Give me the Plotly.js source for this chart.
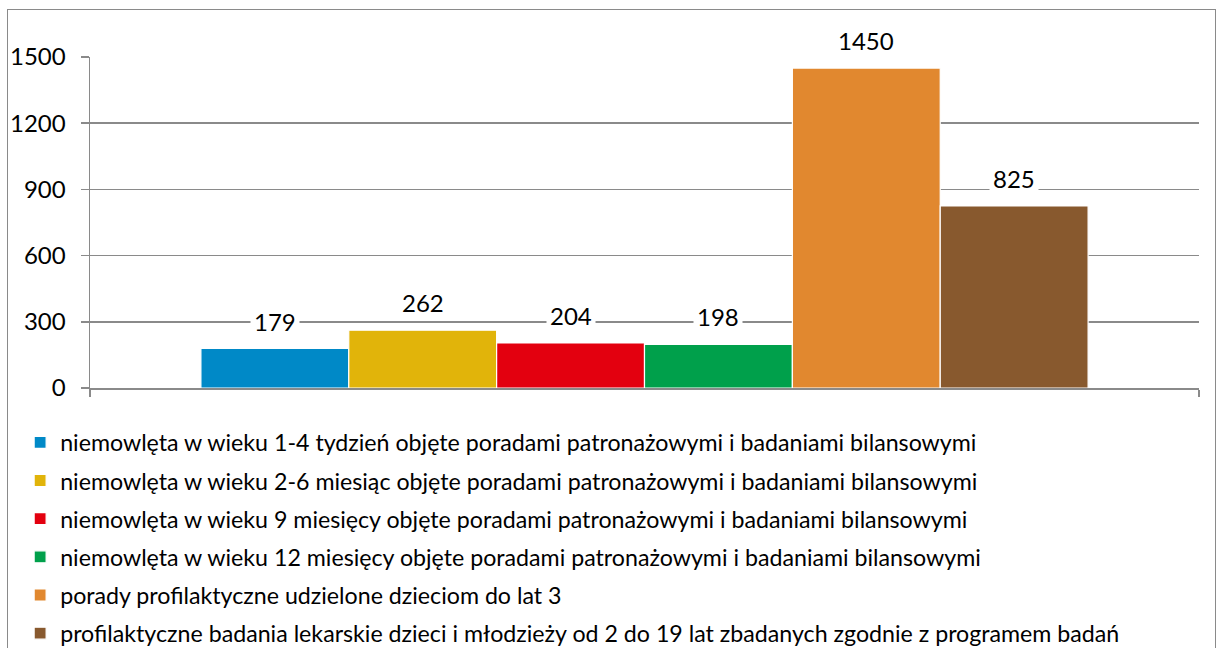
<!DOCTYPE html>
<html>
<head>
<meta charset="utf-8">
<script src="https://cdn.plot.ly/plotly-3.0.1.min.js"></script>
<style>
html,body{margin:0;padding:0;background:#fff;overflow:hidden;width:1218px;height:648px;}
#frame{position:absolute;left:7px;top:9px;width:1209px;height:700px;border:1.5px solid #8a8a8a;box-sizing:border-box;}
#chart{position:absolute;left:0;top:0;width:1218px;height:648px;}
</style>
</head>
<body>
<div id="frame"></div>
<div id="chart"></div>
<script>
const category = ["2015"];
const seriesNames = [
  "niemowlęta w wieku 1-4 tydzień objęte poradami patronażowymi i badaniami bilansowymi",
  "niemowlęta w wieku 2-6 miesiąc objęte poradami patronażowymi i badaniami bilansowymi",
  "niemowlęta w wieku 9 miesięcy objęte poradami patronażowymi i badaniami bilansowymi",
  "niemowlęta w wieku 12 miesięcy objęte poradami patronażowymi i badaniami bilansowymi",
  "porady profilaktyczne udzielone dzieciom do lat 3",
  "profilaktyczne badania lekarskie dzieci i młodzieży od 2 do 19 lat zbadanych zgodnie z programem badań"
];
const seriesValues = [179, 262, 204, 198, 1450, 825];
const seriesColors = ["#0089C7", "#E1B40A", "#E3000F", "#00A04B", "#E1882F", "#88592E"];
const yTicks = [0, 300, 600, 900, 1200, 1500];

const FONT = "Lato, 'Open Sans', sans-serif";
const bargap = 0.2;
const n = seriesValues.length;
const bw = (1 - bargap) / n;

const traces = seriesValues.map((v, i) => ({
  type: "bar",
  name: seriesNames[i],
  x: [0],
  y: [v],
  marker: {color: seriesColors[i], line: {color: "#ffffff", width: 1.2}},
  legendgroup: "g" + i,
  hoverinfo: "skip"
}));

const annotations = seriesValues.map((v, i) => ({
  x: -0.5 + bargap / 2 + (i + 0.5) * bw,
  y: v,
  xref: "x",
  yref: "y",
  text: String(v),
  showarrow: false,
  yanchor: "bottom",
  yshift: 9,
  bgcolor: "#ffffff",
  borderpad: 3,
  font: {family: FONT, size: 24, color: "#000"}
}));

const layout = {
  width: 1218,
  height: 648,
  margin: {l: 90, r: 19, t: 57, b: 260, autoexpand: false},
  paper_bgcolor: "rgba(0,0,0,0)",
  plot_bgcolor: "rgba(0,0,0,0)",
  barmode: "group",
  bargap: bargap,
  bargroupgap: 0,
  font: {family: FONT, size: 24, color: "#000"},
  xaxis: {
    type: "linear",
    range: [-0.5, 0.5],
    showticklabels: false,
    tickvals: [-0.5, 0.5],
    ticks: "outside",
    ticklen: 7,
    tickcolor: "#8a8a8a",
    tickwidth: 1.5,
    showgrid: false,
    showline: true,
    linecolor: "#8a8a8a",
    linewidth: 1.5,
    zeroline: false,
    fixedrange: true
  },
  yaxis: {
    range: [0, 1500],
    tickvals: yTicks,
    ticktext: yTicks.map(String),
    ticks: "outside",
    ticklen: 8,
    tickcolor: "#8a8a8a",
    tickwidth: 1.5,
    ticklabelstandoff: 10,
    showgrid: true,
    gridcolor: "#8a8a8a",
    gridwidth: 1.5,
    showline: true,
    linecolor: "#8a8a8a",
    linewidth: 1.5,
    zeroline: false,
    tickfont: {family: FONT, size: 24, color: "#000"},
    fixedrange: true
  },
  showlegend: true,
  legend: {
    orientation: "v",
    x: -0.063,
    xanchor: "left",
    y: -0.099,
    yanchor: "top",
    traceorder: "grouped",
    tracegroupgap: 5,
    font: {family: FONT, size: 23.2, color: "#000"},
    bgcolor: "rgba(0,0,0,0)"
  },
  annotations: annotations
};

Plotly.newPlot("chart", traces, layout, {displayModeBar: false, staticPlot: true});
</script>
</body>
</html>
